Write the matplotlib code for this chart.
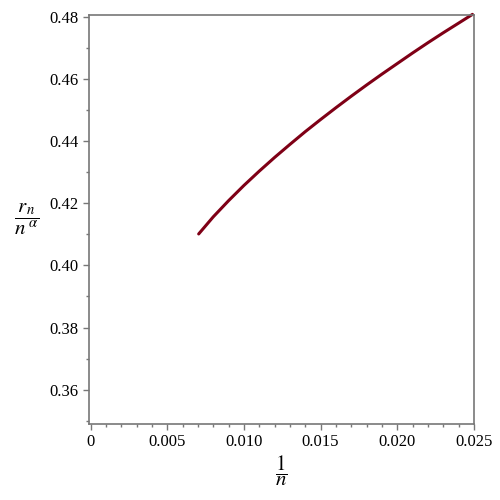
import numpy as np
import matplotlib
matplotlib.use("Agg")
import matplotlib.pyplot as plt
from matplotlib.ticker import MultipleLocator

plt.rcParams['font.family'] = ['Liberation Serif', 'DejaVu Serif']
plt.rcParams['mathtext.fontset'] = 'stix'

# curve points: x = 1/n, y = r_n / n^alpha
inv_n = [0.00705, 0.0080, 0.0090, 0.0100, 0.0110, 0.0120, 0.0130, 0.0140,
         0.0150, 0.0160, 0.0170, 0.0180, 0.0190, 0.0200, 0.0210, 0.0220,
         0.0230, 0.0240, 0.0249]
ratio = [0.4101, 0.4156, 0.4208, 0.4257, 0.4303, 0.4347, 0.4389, 0.4430,
         0.4469, 0.4507, 0.4544, 0.4580, 0.4615, 0.4649, 0.4683, 0.4716,
         0.4748, 0.4779, 0.4807]

xticks = [0, 0.005, 0.010, 0.015, 0.020, 0.025]
xtick_labels = ["0", "0.005", "0.010", "0.015", "0.020", "0.025"]
yticks = [0.36, 0.38, 0.40, 0.42, 0.44, 0.46, 0.48]

fig = plt.figure(figsize=(5, 5), dpi=100)
ax = fig.add_axes([0.178, 0.152, 0.77, 0.818])

ax.plot(inv_n, ratio, color="#7f0016", lw=2.2, clip_on=False,
        solid_capstyle="round", solid_joinstyle="round")

ax.set_xlim(-0.0001, 0.025)
ax.set_ylim(0.349, 0.4805)
ax.set_xticks(xticks)
ax.set_xticklabels(xtick_labels)
ax.set_yticks(yticks)
ax.set_yticklabels([f"{v:.2f}" for v in yticks])
ax.xaxis.set_minor_locator(MultipleLocator(0.001))
ax.yaxis.set_minor_locator(MultipleLocator(0.01))

for s in ax.spines.values():
    s.set_color("#777777")
    s.set_linewidth(1.2)
ax.tick_params(which="both", direction="out", color="#777777", labelsize=12,
               top=False, right=False)
ax.tick_params(which="major", length=4, width=1)
ax.tick_params(which="minor", length=2.5, width=1)

ax.set_xlabel(r"$\dfrac{1}{n}$", fontsize=15, labelpad=2)
ax.set_ylabel(r"$\dfrac{r_{\,n}}{n^{\;\alpha}}$", fontsize=15, rotation=0,
              labelpad=16, va="center")

fig.savefig("out.png", dpi=100)
